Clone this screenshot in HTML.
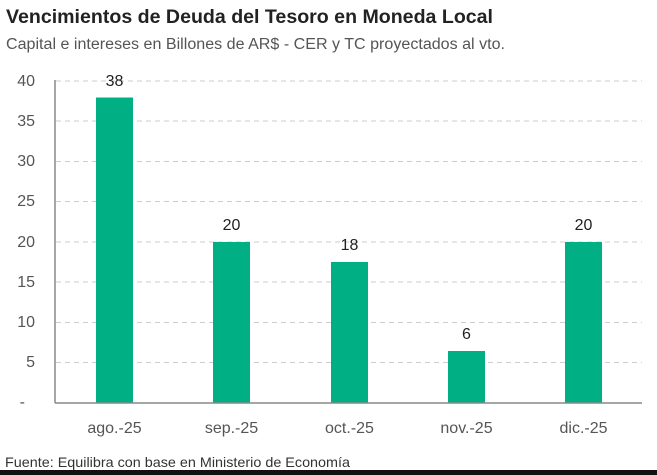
<!DOCTYPE html>
<html><head><meta charset="utf-8"><style>
body{margin:0;background:#fff;}
svg{display:block;font-family:"Liberation Sans",sans-serif;}
</style></head><body>
<svg width="657" height="475" viewBox="0 0 657 475">
<rect width="657" height="475" fill="#fff"/>
<text x="6" y="23" font-size="19" font-weight="bold" fill="#222" textLength="487" lengthAdjust="spacingAndGlyphs">Vencimientos de Deuda del Tesoro en Moneda Local</text>
<text x="6" y="49" font-size="15.5" fill="#555" textLength="499" lengthAdjust="spacingAndGlyphs">Capital e intereses en Billones de AR$ - CER y TC proyectados al vto.</text>
<g stroke="#ccc" stroke-dasharray="5,4" stroke-width="1">
<line x1="56" x2="642" y1="81" y2="81"/><line x1="56" x2="642" y1="121" y2="121"/>
<line x1="56" x2="642" y1="161.5" y2="161.5"/><line x1="56" x2="642" y1="201.5" y2="201.5"/>
<line x1="56" x2="642" y1="242" y2="242"/><line x1="56" x2="642" y1="282" y2="282"/>
<line x1="56" x2="642" y1="322.5" y2="322.5"/><line x1="56" x2="642" y1="362.5" y2="362.5"/>
</g>
<g font-size="16" fill="#555" text-anchor="end">
<text x="35" y="86">40</text><text x="35" y="126">35</text><text x="35" y="166">30</text>
<text x="35" y="206">25</text><text x="35" y="247">20</text><text x="35" y="287">15</text>
<text x="35" y="327">10</text><text x="35" y="367">5</text><text x="25" y="407">-</text>
</g>
<g fill="#00b084">
<rect x="96" y="97.5" width="37" height="305.5"/>
<rect x="213" y="242" width="37" height="161"/>
<rect x="331" y="262" width="37" height="141"/>
<rect x="448" y="351" width="37" height="52"/>
<rect x="565" y="242" width="37" height="161"/>
</g>
<line x1="55" x2="55" y1="80" y2="403" stroke="#888" stroke-width="1.5"/>
<line x1="55" x2="642" y1="403" y2="403" stroke="#888" stroke-width="1.5"/>
<g font-size="16" fill="#222" text-anchor="middle">
<text x="114.5" y="86">38</text><text x="231.5" y="230">20</text><text x="349.5" y="250">18</text>
<text x="466.5" y="339">6</text><text x="583.5" y="230">20</text>
</g>
<g font-size="16" fill="#555" text-anchor="middle">
<text x="114.5" y="433">ago.-25</text><text x="231.5" y="433">sep.-25</text><text x="349.5" y="433">oct.-25</text>
<text x="466.5" y="433">nov.-25</text><text x="583.5" y="433">dic.-25</text>
</g>
<text x="5" y="467" font-size="14" fill="#333" textLength="345" lengthAdjust="spacingAndGlyphs">Fuente: Equilibra con base en Ministerio de Economía</text>
<rect x="0" y="470" width="657" height="5" fill="#111"/>
</svg>
</body></html>
